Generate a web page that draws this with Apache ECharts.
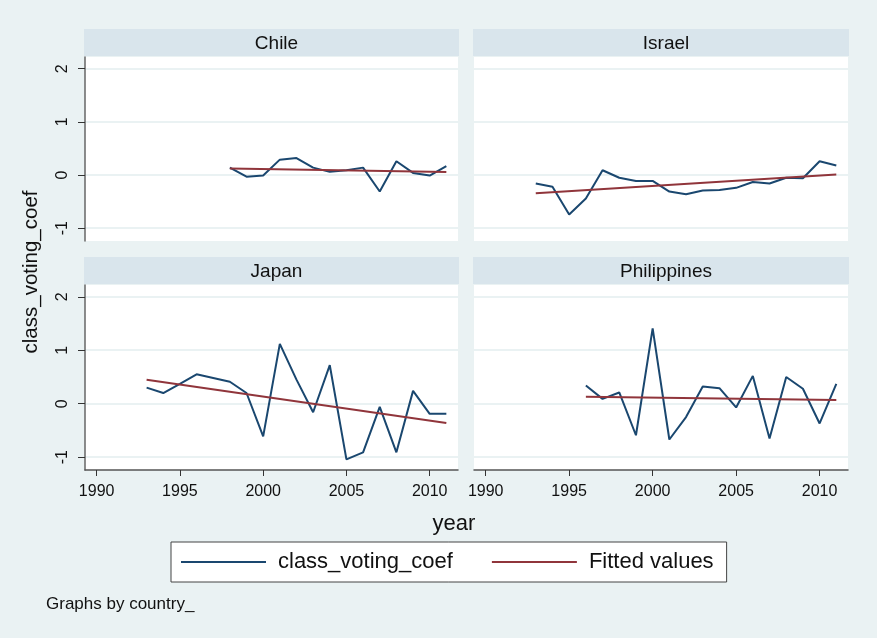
<!DOCTYPE html>
<html>
<head>
<meta charset="utf-8">
<script src="https://cdn.jsdelivr.net/npm/echarts@6/dist/echarts.min.js"></script>
<style>
  html, body { margin: 0; padding: 0; background: #eaf2f3; }
  #main { width: 877px; height: 638px; }
</style>
</head>
<body>
<div id="main"></div>
<script>
// panel names
const countries = ['Chile', 'Israel', 'Japan', 'Philippines'];

// class_voting_coef by year
const chileYears = [1998, 1999, 2000, 2001, 2002, 2003, 2004, 2005, 2006, 2007, 2008, 2009, 2010, 2011];
const chileCoef = [0.14, -0.03, -0.01, 0.29, 0.32, 0.14, 0.06, 0.09, 0.14, -0.31, 0.26, 0.04, -0.01, 0.17];

const israelYears = [1993, 1994, 1995, 1996, 1997, 1998, 1999, 2000, 2001, 2002, 2003, 2004, 2005, 2006, 2007, 2008, 2009, 2010, 2011];
const israelCoef = [-0.16, -0.22, -0.74, -0.44, 0.09, -0.05, -0.11, -0.11, -0.31, -0.36, -0.29, -0.28, -0.24, -0.13, -0.16, -0.05, -0.06, 0.26, 0.18];

const japanYears = [1993, 1994, 1995, 1996, 1997, 1998, 1999, 2000, 2001, 2002, 2003, 2004, 2005, 2006, 2007, 2008, 2009, 2010, 2011];
const japanCoef = [0.30, 0.20, 0.37, 0.55, 0.48, 0.41, 0.20, -0.61, 1.12, 0.45, -0.16, 0.72, -1.04, -0.91, -0.06, -0.91, 0.24, -0.19, -0.19];

const philYears = [1996, 1997, 1998, 1999, 2000, 2001, 2002, 2003, 2004, 2005, 2006, 2007, 2008, 2009, 2010, 2011];
const philCoef = [0.34, 0.09, 0.21, -0.59, 1.41, -0.67, -0.25, 0.32, 0.29, -0.07, 0.52, -0.65, 0.50, 0.28, -0.37, 0.37];

// fitted values at first and last year
const chileFit = [0.125, 0.056];
const israelFit = [-0.34, 0.01];
const japanFit = [0.45, -0.36];
const philFit = [0.13, 0.07];

// axis ticks
const yTicks = [-1, 0, 1, 2];
const xTicks = [1990, 1995, 2000, 2005, 2010];

const panelYears = [chileYears, israelYears, japanYears, philYears];
const panelCoef = [chileCoef, israelCoef, japanCoef, philCoef];
const panelFit = [chileFit, israelFit, japanFit, philFit];

const NAVY = '#1a476f';
const MAROON = '#90353b';
const BG = '#eaf2f3';
const FONT = 'Liberation Sans, Arial, sans-serif';

const grids = [
    { left: 85, top: 57, width: 373, height: 184 },
    { left: 474, top: 57, width: 374, height: 184 },
    { left: 85, top: 285, width: 373, height: 185 },
    { left: 474, top: 285, width: 374, height: 185 }
];

const chart = echarts.init(document.getElementById('main'));

const xAxes = grids.map((g, i) => {
    const bottom = i >= 2;
    return {
        type: 'value',
        gridIndex: i,
        min: 1989.3,
        max: 2011.7,
        axisLine: { show: bottom, onZero: false, lineStyle: { color: '#555', width: 1.5 } },
        axisTick: { show: bottom, length: 6, customValues: xTicks, lineStyle: { color: '#333' } },
        axisLabel: {
            show: bottom, customValues: xTicks, color: '#111', fontSize: 16, fontFamily: FONT, margin: 14,
            formatter: v => String(v)
        },
        splitLine: { show: false }
    };
});

const yAxes = grids.map((g, i) => {
    const left = i % 2 === 0;
    return {
        type: 'value',
        gridIndex: i,
        min: -1.24,
        max: 2.22,
        axisLine: { show: left, lineStyle: { color: '#666', width: 1.5 } },
        axisTick: { show: left, length: 7, customValues: yTicks, lineStyle: { color: '#333' } },
        axisLabel: { show: left, customValues: yTicks, rotate: 90, color: '#111', fontSize: 16, fontFamily: FONT, margin: 14 },
        splitLine: { show: true, lineStyle: { color: BG, width: 2 } }
    };
});

const series = [];
countries.forEach((c, i) => {
    const yrs = panelYears[i];
    series.push({
        name: 'class_voting_coef',
        type: 'line',
        xAxisIndex: i,
        yAxisIndex: i,
        symbol: 'none',
        silent: true,
        lineStyle: { color: NAVY, width: 2 },
        itemStyle: { color: NAVY },
        data: yrs.map((y, k) => [y, panelCoef[i][k]])
    });
    series.push({
        name: 'Fitted values',
        type: 'line',
        xAxisIndex: i,
        yAxisIndex: i,
        symbol: 'none',
        silent: true,
        z: 3,
        lineStyle: { color: MAROON, width: 2 },
        itemStyle: { color: MAROON },
        data: [[yrs[0], panelFit[i][0]], [yrs[yrs.length - 1], panelFit[i][1]]]
    });
});

// strip headers above each panel
const strips = grids.map(g => ({
    type: 'rect',
    silent: true,
    shape: { x: g.left - 1, y: g.top - 28, width: g.width + 2, height: 27 },
    style: { fill: '#d9e5ec' }
}));
const plotBg = grids.map(g => ({
    type: 'rect',
    silent: true,
    z: -1,
    shape: { x: g.left, y: g.top, width: g.width, height: g.height },
    style: { fill: '#ffffff' }
}));

const titles = countries.map((c, i) => ({
    text: c,
    left: grids[i].left + grids[i].width / 2,
    top: grids[i].top - 28,
    textAlign: 'center',
    textStyle: { fontSize: 19, fontWeight: 'normal', color: '#111', fontFamily: FONT }
}));
titles.push({
    text: 'year',
    left: 449,
    top: 508,
    textAlign: 'center',
    textStyle: { fontSize: 22, fontWeight: 'normal', color: '#111', fontFamily: FONT }
});
titles.push({
    text: 'Graphs by country_',
    left: 41,
    top: 591,
    textStyle: { fontSize: 17, fontWeight: 'normal', color: '#111', fontFamily: FONT }
});

chart.setOption({
    backgroundColor: BG,
    animation: false,
    title: titles,
    grid: grids,
    xAxis: xAxes,
    yAxis: yAxes,
    legend: {
        data: [
            { name: 'class_voting_coef', icon: 'rect' },
            { name: 'Fitted values', icon: 'rect' }
        ],
        left: 171,
        top: 542,
        itemWidth: 85,
        itemHeight: 2,
        itemGap: 39,
        padding: [9, 13, 9, 10],
        backgroundColor: '#ffffff',
        borderColor: '#444',
        borderWidth: 1,
        borderRadius: 0,
        selectedMode: false,
        textStyle: { fontSize: 22, color: '#111', fontFamily: FONT, padding: [0, 0, 0, 7], lineHeight: 22 }
    },
    graphic: [
        ...plotBg,
        ...strips,
        {
            type: 'text',
            silent: true,
            x: 31,
            y: 272,
            rotation: Math.PI / 2,
            style: {
                text: 'class_voting_coef',
                font: '20.5px ' + FONT,
                fill: '#111',
                textAlign: 'center',
                textVerticalAlign: 'middle'
            }
        }
    ],
    series: series
});
</script>
</body>
</html>
